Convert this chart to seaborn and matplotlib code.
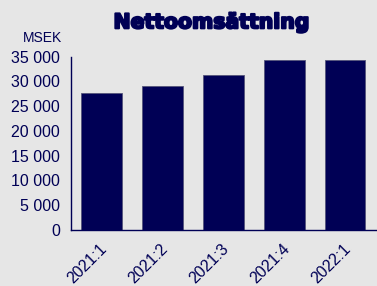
import matplotlib
matplotlib.use("Agg")
import matplotlib.pyplot as plt
import matplotlib.patheffects as pe
import matplotlib.transforms as mtransforms
import seaborn as sns
import numpy as np
import pandas as pd

categories = ["2021:1", "2021:2", "2021:3", "2021:4", "2022:1"]
values = [27600, 29000, 31200, 34300, 34350]
yticks = [0, 5000, 10000, 15000, 20000, 25000, 30000, 35000]
ytick_labels = ["0", "5 000", "10 000", "15 000", "20 000", "25 000", "30 000", "35 000"]

navy = "#000055"
bg = "#e6e6e6"

sns.set_style("white")
plt.rcParams['font.family'] = ['Liberation Sans', 'DejaVu Sans']

fig = plt.figure(figsize=(3.77, 2.86), dpi=100, facecolor=bg)
ax = fig.add_axes([0.188, 0.196, 0.809, 0.606])
ax.set_facecolor(bg)

df = pd.DataFrame({"q": categories, "v": values})
sns.barplot(data=df, x="q", y="v", color=navy, width=0.66, ax=ax,
            edgecolor="#55557a", linewidth=0.6, saturation=1)

ax.set_xlim(-0.5, 4.5)
ax.set_ylim(0, 35000)
ax.set_yticks(yticks)
ax.set_yticklabels(ytick_labels, color=navy, fontsize=11.5)
ax.set_xticks(np.arange(-0.5, 5.0, 1.0))
ax.set_xticklabels([])
ax.set_xticks(np.arange(len(categories)), minor=True)
ax.set_xticklabels(categories, minor=True, rotation=45, ha="right",
                   rotation_mode="anchor", color=navy, fontsize=11.5)
ax.tick_params(axis="x", which="minor", length=0, pad=8)
ax.tick_params(axis="x", which="major", length=5, width=1, color=navy, direction="out")
ax.tick_params(axis="y", length=5, width=1, color=navy, direction="out", pad=3)
offset = mtransforms.ScaledTranslation(-2 / 100, 0, fig.dpi_scale_trans)
for lbl in ax.get_xticklabels(minor=True):
    lbl.set_transform(lbl.get_transform() + offset)
ax.set_xlabel("")
ax.set_ylabel("")
sns.despine(ax=ax)
for s in ["left", "bottom"]:
    ax.spines[s].set_color(navy)
    ax.spines[s].set_linewidth(1)

fig.text(0.114, 0.868, "MSEK", color=navy, fontsize=10, ha="center", va="center")
t = fig.text(0.561, 0.901, "Nettoomsättning", color=navy, fontsize=14.7,
             fontweight="heavy", family="DejaVu Sans", ha="center", va="baseline")
t.set_path_effects([pe.withStroke(linewidth=1.5, foreground=navy)])

fig.savefig("out.png", dpi=100, facecolor=bg)
